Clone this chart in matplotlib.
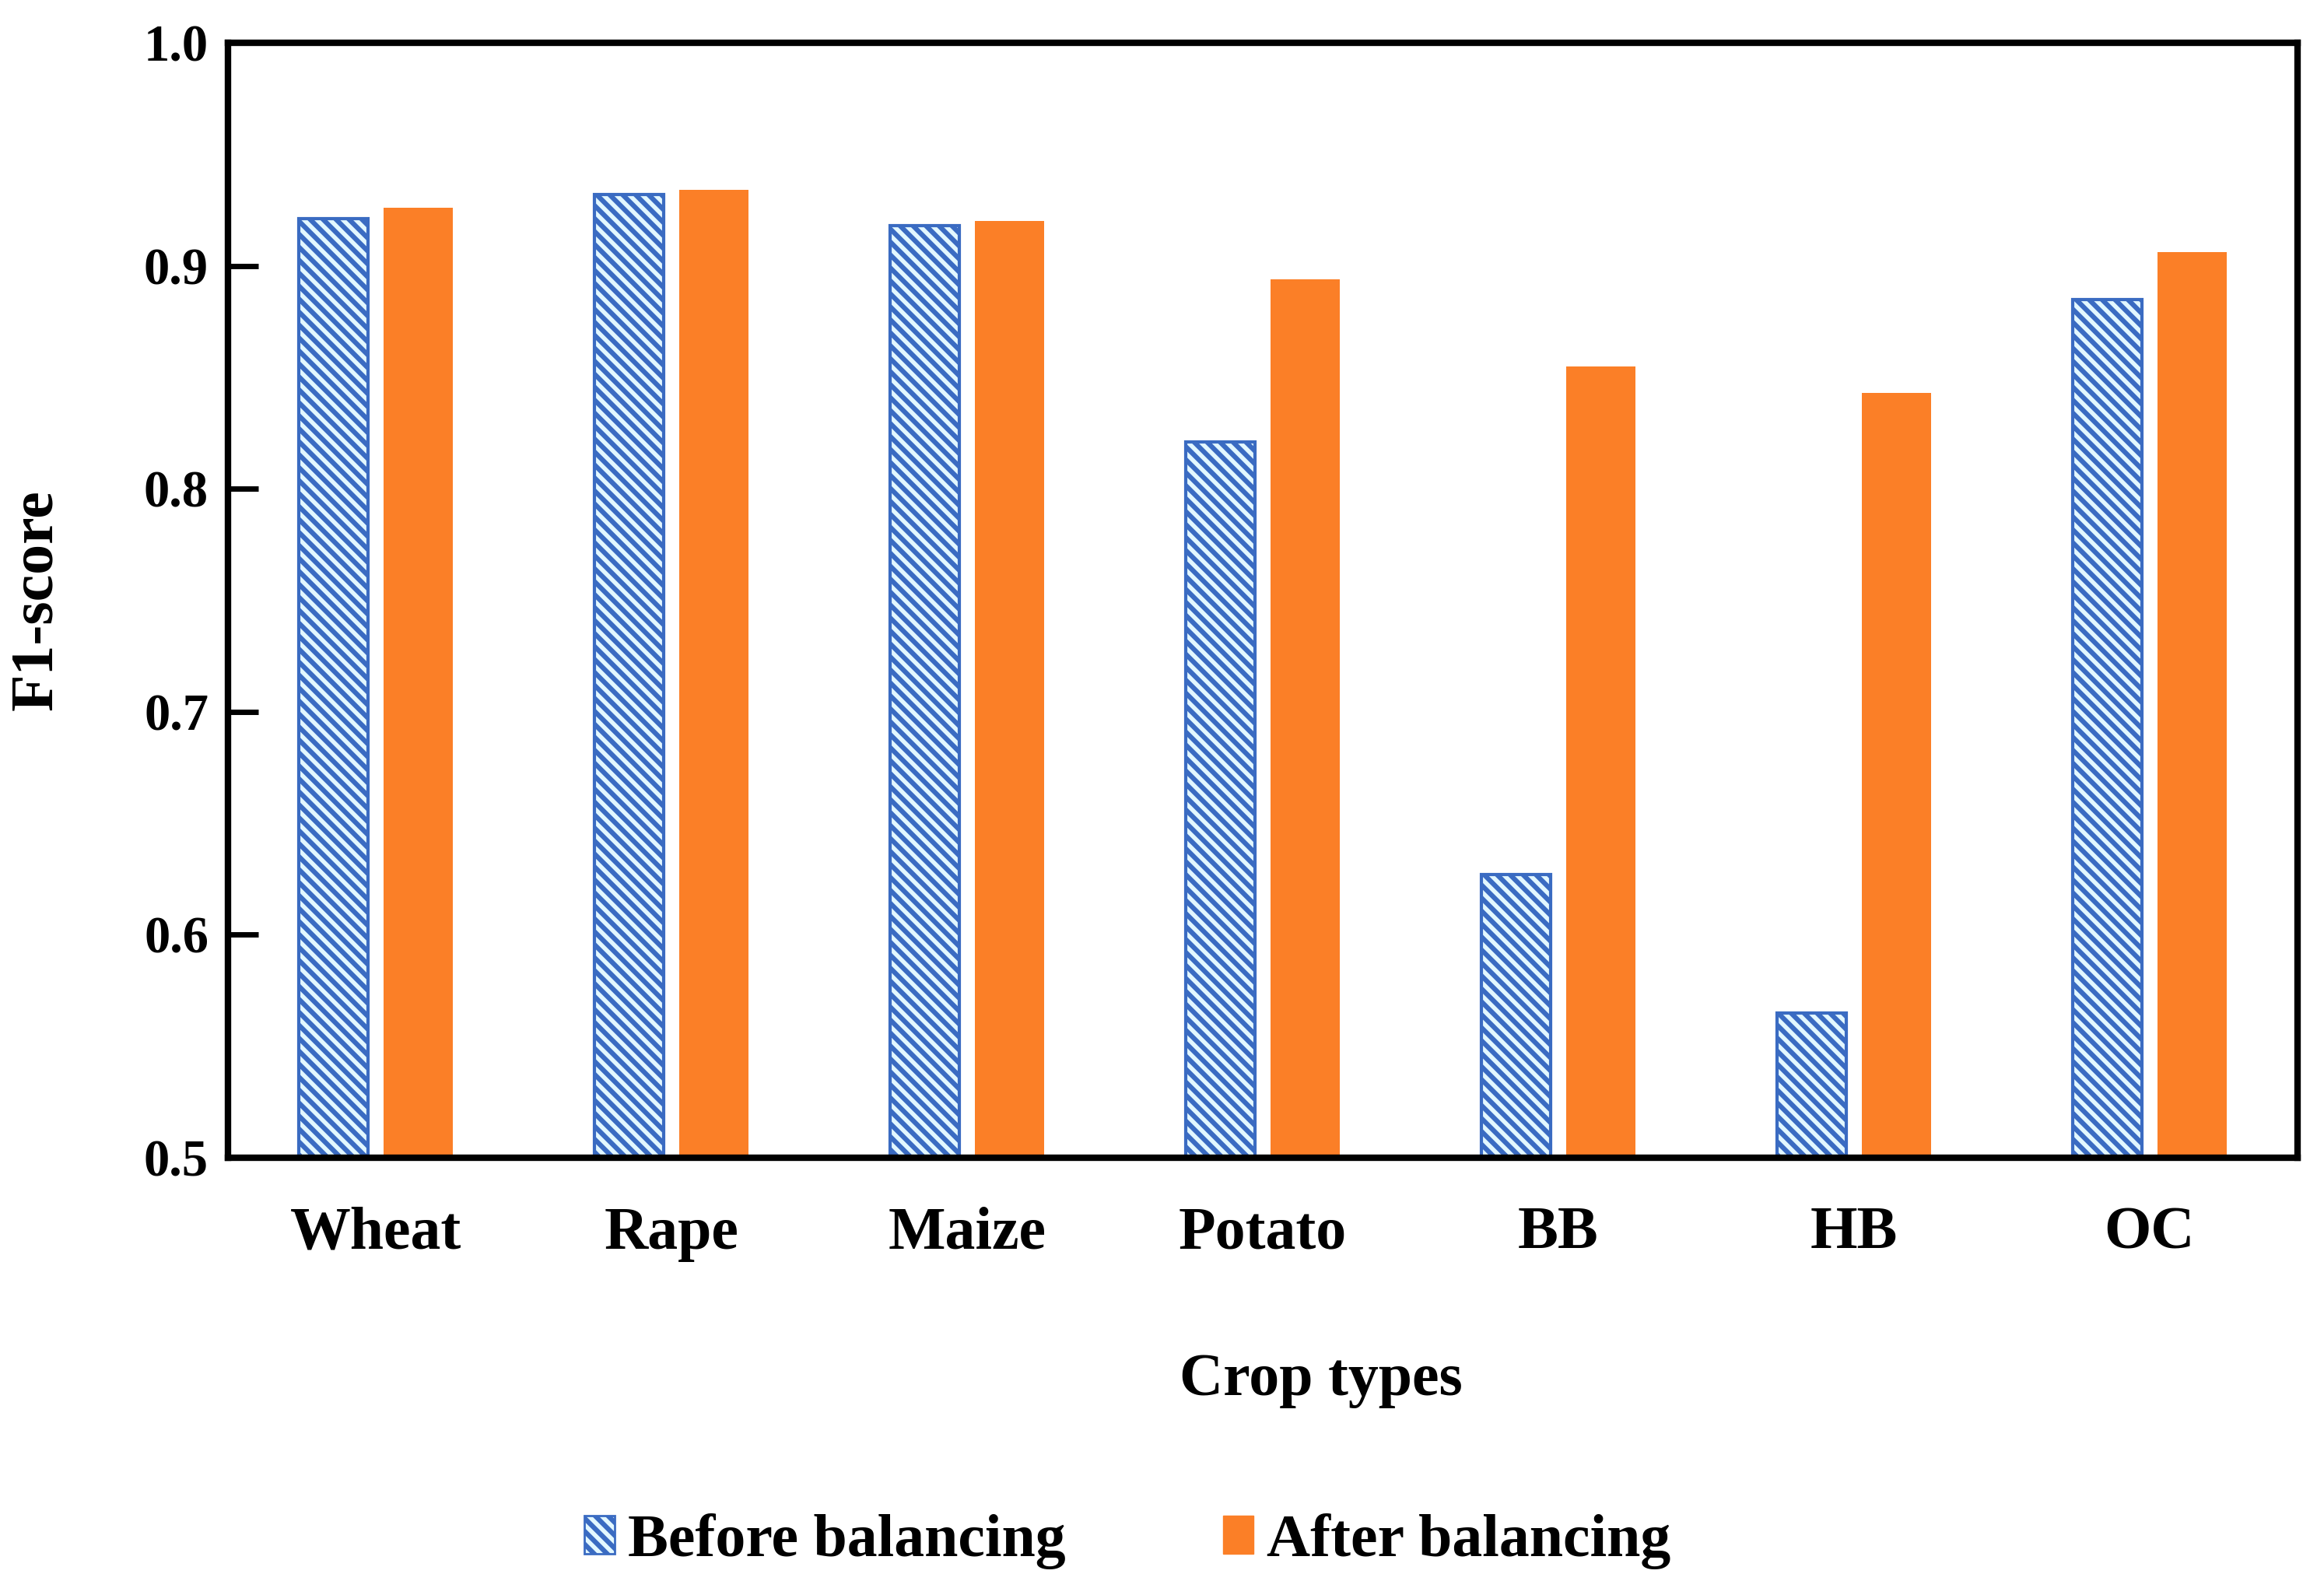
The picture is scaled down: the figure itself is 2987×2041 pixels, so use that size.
import matplotlib
matplotlib.use("Agg")
import matplotlib.pyplot as plt
import numpy as np
from matplotlib.patches import Patch

categories = ["Wheat", "Rape", "Maize", "Potato", "BB", "HB", "OC"]
before = [0.921, 0.932, 0.918, 0.821, 0.627, 0.565, 0.885]
after = [0.926, 0.934, 0.920, 0.894, 0.855, 0.843, 0.906]
yticks = [0.5, 0.6, 0.7, 0.8, 0.9, 1.0]
ytick_labels = ["0.5", "0.6", "0.7", "0.8", "0.9", "1.0"]

plt.rcParams['font.family'] = ['Liberation Serif', 'DejaVu Serif']
plt.rcParams['font.weight'] = 'bold'
plt.rcParams['hatch.linewidth'] = 4.5

blue = "#3A6BC2"
light = "#E2F7FF"
orange = "#FB7F27"

fig = plt.figure(figsize=(29.87, 20.41), dpi=100)
ax = fig.add_axes([293/2987, 1 - 1488/2041, (2953-293)/2987, (1488-55)/2041])

x = np.arange(len(categories))
w = 0.235
ax.bar(x - 0.143, before, w, facecolor=light, edgecolor=blue,
       hatch="\\\\", linewidth=3, zorder=2)
ax.bar(x + 0.143, after, w, facecolor=orange, edgecolor=orange, linewidth=0, zorder=2)

ax.set_xlim(-0.5, 6.5)
ax.set_ylim(0.5, 1.0)
ax.set_yticks(yticks)
ax.set_yticklabels(ytick_labels, fontsize=48, fontweight='bold')
ax.set_xticks(x)
ax.set_xticklabels(categories, fontsize=56, fontweight='bold')
ax.tick_params(axis='y', direction='in', length=28, width=5, pad=18)
ax.tick_params(axis='x', length=0, pad=45)
for s in ax.spines.values():
    s.set_linewidth(6)
    s.set_color("black")

ax.set_ylabel("F1-score", fontsize=56, fontweight='bold')
ax.yaxis.set_label_coords(-0.079, 0.5)
ax.set_xlabel("Crop types", fontsize=56, fontweight='bold')
ax.xaxis.set_label_coords(0.528, -0.175)

handles = [Patch(facecolor=light, edgecolor=blue, hatch="\\\\", linewidth=2),
           Patch(facecolor=orange, edgecolor=orange)]
fig.legend(handles, ["Before balancing", "After balancing"], loc='center',
           bbox_to_anchor=(1449/2987, 1 - 1981/2041), ncol=2, frameon=False,
           prop={'size': 56, 'weight': 'bold'}, handlelength=0.5, handleheight=0.58,
           handletextpad=0.22, columnspacing=2.6)

fig.savefig("out.png", dpi=100, facecolor="white")
